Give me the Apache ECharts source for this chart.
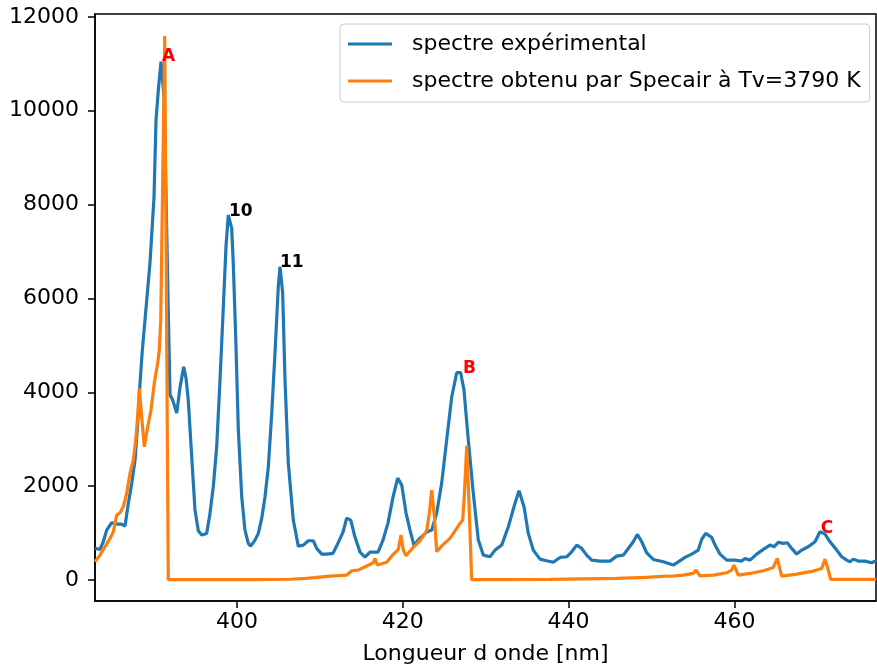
<!DOCTYPE html>
<html>
<head>
<meta charset="utf-8">
<script src="https://cdn.jsdelivr.net/npm/echarts@6/dist/echarts.min.js"></script>
<style>
html,body{margin:0;padding:0;background:#fff;}
#chart{width:877px;height:672px;}
</style>
</head>
<body>
<div id="chart"></div>
<script>
// Experimental spectrum (wavelength nm, intensity)
var expWavelength = [382.87,383.47,383.87,384.28,384.88,385.49,386.09,386.49,386.89,387.30,387.70,388.02,388.30,388.58,388.90,389.50,389.99,390.23,390.51,390.83,390.99,391.19,391.43,391.68,391.92,392.24,392.73,393.12,393.57,393.85,394.12,394.61,394.93,395.33,395.74,395.93,396.34,396.74,397.14,397.55,397.95,398.35,398.67,398.95,399.36,399.55,399.88,400.16,400.57,400.96,401.36,401.65,402.17,402.57,402.98,403.38,403.78,404.19,404.58,404.98,405.19,405.51,405.79,406.19,406.79,407.39,408.00,408.60,409.20,409.61,410.22,410.82,411.58,412.18,412.79,413.23,413.72,414.23,414.84,415.44,416.04,417.01,417.61,418.21,418.82,419.38,419.87,420.39,420.87,421.35,422.07,422.88,423.49,424.09,424.69,425.29,425.90,426.50,426.98,427.38,427.90,428.50,429.11,429.71,430.52,431.12,431.93,432.73,433.53,434.02,434.62,435.14,435.74,436.55,437.36,438.15,438.96,439.77,440.37,440.98,441.58,442.18,442.79,443.79,444.99,445.80,446.60,447.20,447.80,448.29,448.82,449.42,450.22,451.42,452.63,453.23,454.04,454.85,455.64,456.05,456.54,457.26,457.66,458.26,459.07,460.07,460.88,461.28,461.88,462.69,463.49,464.29,464.78,465.29,465.90,466.38,466.91,467.51,468.12,468.91,469.72,470.33,470.93,471.53,472.34,472.94,473.55,473.94,474.34,474.95,475.75,476.56,476.96,477.08];
var expIntensity = [675,654,817,1066,1222,1193,1193,1150,1634,2060,2557,3339,4191,4901,5540,6750,8160,9800,10440,11045,11080,10300,8300,6000,3950,3836,3560,4100,4546,4300,3836,2415,1500,1050,959,923,995,1421,1989,2841,4262,5824,7103,7778,7494,6749,4972,3197,1775,1066,782,724,852,995,1315,1775,2415,3552,4831,6250,6677,6109,4262,2487,1279,724,746,838,838,675,554,554,570,788,1023,1321,1279,916,597,490,597,597,852,1215,1769,2174,2024,1428,1066,740,895,1023,1066,1428,2067,2983,3900,4418,4418,4049,2983,1854,852,533,497,639,746,1136,1634,1904,1562,995,639,447,412,380,483,497,604,746,675,533,426,405,405,511,533,675,817,973,817,582,440,390,320,390,483,554,639,867,995,909,746,554,426,426,405,462,426,554,654,746,710,803,782,795,675,554,639,710,817,1030,980,817,639,497,426,390,447,405,405,369,405,380];

// Specair simulated spectrum (wavelength nm, intensity)
var simWavelength = [382.87,383.47,384.08,384.68,385.08,385.49,385.89,386.28,386.69,387.09,387.49,387.78,388.02,388.21,388.50,388.82,389.23,389.63,390.02,390.43,390.63,390.80,391.28,391.71,395.54,401.57,406.39,408.41,411.22,413.23,413.84,414.60,415.64,416.44,416.65,416.92,418.06,418.85,419.46,419.78,420.06,420.39,421.27,422.07,422.88,423.20,423.49,423.80,424.09,424.69,425.69,426.90,427.22,427.42,427.71,427.99,428.31,437.76,445.80,448.45,448.61,448.90,451.75,451.90,452.20,453.84,455.04,455.37,455.85,457.45,459.07,459.67,459.95,460.47,461.88,463.49,464.69,465.17,465.70,467.51,469.52,470.53,470.93,471.33,471.61,477.08];
var simIntensity = [390,533,710,888,1030,1385,1435,1562,1847,2273,2557,2983,3480,4085,3480,2841,3267,3623,4191,4618,4901,5540,11590,10,10,12,18,36,85,107,199,213,300,370,462,320,380,550,657,959,640,520,700,835,1050,1425,1918,1375,608,728,888,1208,1279,1800,2860,1600,10,15,36,55,80,52,85,118,82,107,142,213,92,107,156,213,320,107,142,199,270,462,85,128,192,249,447,213,15,15];

// Peak annotations
var annotationLabels = ['A','10','11','B','C'];
var annotationX = [390.95,399.03,405.19,427.26,470.41];
var annotationY = [11050,7757,6664,4400,1000];
var annotationColors = ['#ff0000','#000000','#000000','#ff0000','#ff0000'];

var xTickValues = [400,420,440,460];
var yTickValues = [0,2000,4000,6000,8000,10000,12000];

var seriesNames = ['spectre expérimental','spectre obtenu par Specair à Tv=3790 K'];

function zip(a,b){var r=[];for(var i=0;i<a.length;i++){r.push([a[i],b[i]]);}return r;}

var annData = [];
for (var i=0;i<annotationLabels.length;i++){
  annData.push({
    value:[annotationX[i],annotationY[i]],
    label:{formatter:annotationLabels[i], color:annotationColors[i], opacity:1}
  });
}

var chart = echarts.init(document.getElementById('chart'), null, {renderer:'canvas'});
var FONT = 'DejaVu Sans';
chart.setOption({
  animation:false,
  backgroundColor:'#ffffff',
  textStyle:{fontFamily:FONT},
  grid:{left:95,right:1,top:14,bottom:71,show:true,borderColor:'#000',borderWidth:1.5,backgroundColor:'transparent'},
  legend:{
    data:seriesNames,
    orient:'vertical',
    left:340, top:24,
    padding:[9,9,10,8],
    icon:'rect',
    itemWidth:44, itemHeight:3, itemGap:15,
    backgroundColor:'rgba(255,255,255,0.8)',
    borderColor:'#cccccc', borderWidth:1, borderRadius:4,
    textStyle:{fontFamily:FONT,fontSize:22,color:'#000',padding:[0,0,0,15],lineHeight:22}
  },
  xAxis:{
    type:'value', min:382.87, max:477.08,
    name:'Longueur d onde [nm]', nameLocation:'middle', nameGap:42,
    nameTextStyle:{fontFamily:FONT,fontSize:22,color:'#000'},
    axisLine:{show:true,onZero:false,lineStyle:{color:'#000',width:1.5}},
    axisTick:{show:true,length:7,lineStyle:{color:'#000',width:1.5},customValues:xTickValues},
    axisLabel:{fontFamily:FONT,fontSize:22,color:'#000',margin:10,customValues:xTickValues,
               formatter:function(v){return String(v);}},
    splitLine:{show:false}
  },
  yAxis:{
    type:'value', min:-445, max:12060,
    axisLine:{show:true,onZero:false,lineStyle:{color:'#000',width:1.5}},
    axisTick:{show:true,length:7,lineStyle:{color:'#000',width:1.5},customValues:yTickValues},
    axisLabel:{fontFamily:FONT,fontSize:22,color:'#000',margin:16,customValues:yTickValues,
               formatter:function(v){return String(v);}},
    splitLine:{show:false}
  },
  series:[
    {name:seriesNames[0],type:'line',data:zip(expWavelength,expIntensity),symbol:'none',
     lineStyle:{color:'#1f77b4',width:3.2},itemStyle:{color:'#1f77b4'}},
    {name:seriesNames[1],type:'line',data:zip(simWavelength,simIntensity),symbol:'none',
     lineStyle:{color:'#ff7f0e',width:3.2},itemStyle:{color:'#ff7f0e'}},
    {name:'annotations',type:'scatter',data:annData,symbolSize:0.1,
     itemStyle:{color:'#000',opacity:0},z:10,
     label:{show:true,position:[0,4],align:'left',verticalAlign:'bottom',color:'#000',opacity:1,
            fontFamily:FONT,fontWeight:'bold',fontSize:17}}
  ]
});
</script>
</body>
</html>
